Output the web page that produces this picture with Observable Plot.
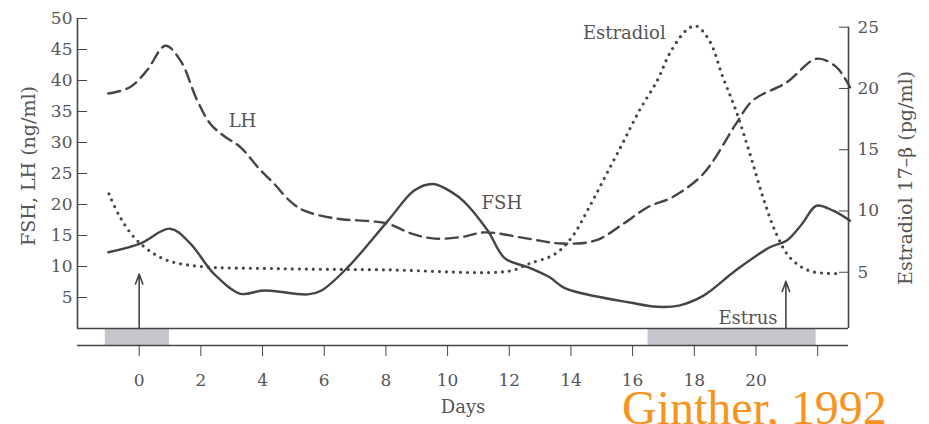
<!DOCTYPE html>
<html><head><meta charset="utf-8">
<script src="https://cdn.jsdelivr.net/npm/d3@7"></script>
<script src="https://cdn.jsdelivr.net/npm/@observablehq/plot@0.6"></script>
<style>
html,body{margin:0;padding:0;background:#fff;}
#wrap{position:relative;width:929px;height:424px;overflow:hidden;}
#cap{position:absolute;left:622px;top:392px;font-family:"Liberation Serif",serif;font-size:48px;color:#f7941e;line-height:0.65;white-space:nowrap;}
</style></head><body>
<div id="wrap"><div id="chart"></div><div id="cap">Ginther, 1992</div></div>
<script>
// LH (ng/ml), dashed
const lhDays = [-1.0,-0.3,0.25,0.85,1.34,1.88,2.31,2.74,3.29,3.94,4.35,4.9,5.35,6.44,7.52,8.07,8.83,9.58,10.5,11.2,12.6,13.7,14.8,15.7,16.5,17.3,18.3,19.35,19.9,21.0,21.96,22.6,23.05];
const lhVals = [37.9,38.9,41.6,45.6,43.2,36.8,33,31.1,29.2,25.5,23.5,20.5,19,17.7,17.3,16.9,15.3,14.5,14.8,15.5,14.5,13.7,14.2,16.9,19.6,21.2,25,33,36.8,39.7,43.5,42.2,38.9];
// FSH (ng/ml), solid
const fshDays = [-1.0,0.03,1.0,1.66,2.41,3.29,3.94,4.27,5.46,5.9,6.77,8.07,8.93,9.53,10.13,10.55,11.3,11.86,12.6,13.3,13.8,14.8,15.9,16.8,17.5,18.3,19.35,20.45,21.0,21.5,21.96,22.5,23.05];
const fshVals = [12.3,13.7,16.1,13.7,8.9,5.6,6.1,6.1,5.5,6.1,9.9,17.4,22.3,23.3,22,20.4,15.8,11.3,9.9,8.3,6.5,5.2,4.2,3.5,3.7,5.3,9.4,13.1,14.2,16.9,19.8,19,17.4];
// Estradiol 17-beta (pg/ml), dotted, right axis
const e2Days = [-0.98,-0.62,-0.07,0.78,1.88,4.43,8,12.0,12.64,13.49,14.04,14.59,15.11,15.67,16.22,16.81,17.19,17.72,18.05,18.49,18.93,19.35,19.8,20.23,20.65,21.1,21.75,22.73];
const e2Vals = [11.4,9.5,7.6,6.1,5.5,5.3,5.2,5.1,5.7,6.5,7.9,10.3,12.8,15.5,18.2,20.7,22.8,24.7,25.1,23.9,20.9,18.2,14.7,11.1,8.2,6.2,5.1,4.9];

// axes
const leftTicks = [5,10,15,20,25,30,35,40,45,50];
const rightTicks = [5,10,15,20,25];
const xTicks = [0,2,4,6,8,10,12,14,16,18,20,22];
const xTickLabels = ["0","2","4","6","8","10","12","14","16","18","20",""];
// right axis (pg/ml) as aligned against the left axis (ng/ml) in the figure
const rightAlignPg = [0, 25];
const rightAlignNg = [-0.81, 48.6];
const E = d3.scaleLinear().domain(rightAlignPg).range(rightAlignNg);

// estrus periods (days) and ovulation arrows
const estrusStart = [-1.1, 16.5];
const estrusEnd = [0.98, 21.95];
const arrowDays = [0, 20.97];
const arrowTops = [8.8, 7.6];

// curve labels
const labelText = ["LH", "FSH", "Estradiol", "Estrus"];
const labelDay = [3.35, 11.76, 15.73, 19.74];
const labelVal = [33.5, 20.2, 47.6, 1.6];

const bandBottom = -2.74;
const ink = "#454545";
const txt = "#555";

const lh = lhDays.map((d,i)=>({x:d, y:lhVals[i]}));
const fsh = fshDays.map((d,i)=>({x:d, y:fshVals[i]}));
const e2 = e2Days.map((d,i)=>({x:d, y:E(e2Vals[i])}));
const estrus = estrusStart.map((s,i)=>({s, e:estrusEnd[i]}));
const arrows = arrowDays.map((d,i)=>({x:d, top:arrowTops[i]}));
const labels = labelText.map((t,i)=>({t, x:labelDay[i], y:labelVal[i]}));

const chart = Plot.plot({
  width: 929, height: 424,
  marginLeft: 77, marginRight: 81, marginTop: 18, marginBottom: 79,
  x: {domain: [-2, 23]},
  y: {domain: [bandBottom, 50]},
  style: {fontFamily: "DejaVu Serif", fontSize: "17px", color: txt, background: "white"},
  marks: [
    Plot.rect(estrus, {x1: "s", x2: "e", y1: bandBottom, y2: 0, fill: "#c4c6cc"}),
    Plot.ruleY([0], {stroke: ink, strokeWidth: 1.6}),
    Plot.ruleY([bandBottom], {stroke: ink, strokeWidth: 1.6}),
    Plot.ruleX([-2], {y1: 0, y2: 50, stroke: ink, strokeWidth: 1.6}),
    Plot.ruleX([23], {y1: 0, y2: E(25), stroke: ink, strokeWidth: 1.6}),
    Plot.axisY(leftTicks, {anchor: "left", tickSize: -10, tickPadding: 15, stroke: ink, fill: txt, fontSize: 17, tickFormat: d => String(d)}),
    Plot.axisY(rightTicks.map(E), {anchor: "right", tickSize: -10, tickPadding: 19, stroke: ink, fill: txt, fontSize: 17, tickFormat: d => String(Math.round(E.invert(d)))}),
    Plot.axisX(xTicks, {anchor: "bottom", tickSize: 11, tickPadding: 17, stroke: ink, fill: txt, fontSize: 17, tickFormat: d => xTickLabels[xTicks.indexOf(d)]}),
    Plot.line(e2, {x: "x", y: "y", curve: "catmull-rom", stroke: ink, strokeWidth: 3.2, strokeDasharray: "0,7", strokeLinecap: "round"}),
    Plot.line(lh, {x: "x", y: "y", curve: "catmull-rom", stroke: ink, strokeWidth: 2.4, strokeDasharray: "12,6.5"}),
    Plot.line(fsh, {x: "x", y: "y", curve: "catmull-rom", stroke: ink, strokeWidth: 2.4}),
    Plot.arrow(arrows, {x1: "x", x2: "x", y1: 0, y2: "top", stroke: ink, strokeWidth: 1.6, headLength: 10, headAngle: 40}),
    Plot.text(labels, {x: "x", y: "y", text: "t", fontSize: 18, fill: txt}),
    Plot.text(["Days"], {frameAnchor: "bottom", dy: 67, fontSize: 18, fill: txt}),
    Plot.text(["FSH, LH (ng/ml)"], {frameAnchor: "left", textAnchor: "middle", dx: -49, dy: -16, rotate: -90, fontSize: 19, fill: txt}),
    Plot.text(["Estradiol 17–β (pg/ml)"], {frameAnchor: "right", textAnchor: "middle", dx: 57, dy: -4, rotate: -90, fontSize: 19, fill: txt})
  ]
});
document.getElementById("chart").appendChild(chart);
</script></body></html>
